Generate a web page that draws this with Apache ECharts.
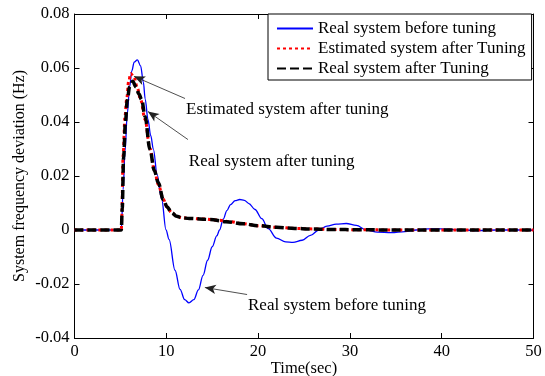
<!DOCTYPE html>
<html>
<head>
<meta charset="utf-8">
<script src="https://cdn.jsdelivr.net/npm/echarts@6/dist/echarts.min.js"></script>
<style>html,body{margin:0;padding:0;background:#fff;}#c{width:545px;height:376px;}</style>
</head>
<body>
<div id="c"></div>
<script>
// ---- data ----
const seriesNames = ['Real system before tuning', 'Estimated system after Tuning', 'Real system after Tuning'];

const blueT = [0, 5.1, 5.3, 5.5, 5.75, 6.0, 6.25, 6.5, 6.85, 7.2, 7.5, 7.7, 8.0, 8.3, 8.6, 9.0, 9.5, 9.97, 10.3, 10.95, 11.5, 12.0, 12.47, 13.0, 13.5, 14.0, 14.5, 15.0, 15.5, 15.8, 16.2, 16.6, 17.0, 17.5, 18.0, 18.5, 19.0, 19.66, 20.4, 21.1, 22.0, 23.0, 23.8, 24.8, 25.7, 26.6, 27.5, 28.5, 29.6, 30.7, 31.8, 33.0, 34.5, 36.0, 37.2, 38.5, 40.0, 42.0, 44.0, 46.0, 50.0];
const blueV = [0, 0, 0.015, 0.029, 0.043, 0.053, 0.059, 0.0622, 0.063, 0.0608, 0.0548, 0.0485, 0.041, 0.035, 0.0298, 0.0205, 0.0113, 0, -0.0035, -0.0149, -0.022, -0.0258, -0.027, -0.0258, -0.0222, -0.0168, -0.0112, -0.0062, -0.0022, 0, 0.004, 0.0072, 0.0094, 0.0109, 0.0113, 0.011, 0.0098, 0.0076, 0.0042, 0.0005, -0.003, -0.0044, -0.0046, -0.0038, -0.002, 0, 0.0014, 0.0022, 0.0024, 0.0017, 0, -0.0008, -0.001, -0.0006, 0, 0.0004, 0.0004, 0, -0.0002, 0, 0];

const redT = [0, 5.1, 5.15, 5.3, 5.5, 5.68, 5.9, 6.12, 6.5, 6.85, 7.2, 7.68, 8.22, 8.7, 9.13, 9.67, 10.1, 10.58, 11.1, 11.68, 12.5, 14.0, 15.5, 17.0, 18.4, 20.0, 22.0, 24.0, 26.0, 28.0, 31.0, 35.0, 50.0];
const redV = [0, 0, 0.005, 0.028, 0.042, 0.0483, 0.055, 0.058, 0.0565, 0.0525, 0.0483, 0.041, 0.0302, 0.0222, 0.0168, 0.0114, 0.0084, 0.0064, 0.0052, 0.0046, 0.0043, 0.0041, 0.0037, 0.0031, 0.0023, 0.0016, 0.001, 0.0006, 0.0004, 0.0002, 0.0001, 0, 0];

const blackT = [0, 5.1, 5.2, 5.35, 5.55, 5.75, 6.0, 6.34, 6.7, 7.0, 7.32, 7.68, 8.22, 8.7, 9.13, 9.67, 10.1, 10.58, 11.13, 11.68, 12.5, 14.76, 16.5, 18.4, 20.0, 22.0, 24.0, 25.65, 28.0, 31.0, 35.0, 50.0];
const blackV = [0, 0, 0.008, 0.027, 0.04, 0.048, 0.053, 0.0551, 0.053, 0.0505, 0.0483, 0.0421, 0.0298, 0.022, 0.0175, 0.0113, 0.0085, 0.0064, 0.0051, 0.0045, 0.0043, 0.0039, 0.0031, 0.0023, 0.0016, 0.001, 0.0006, 0.0004, 0.0002, 0.0001, 0, 0];

const xTicks = [0, 10, 20, 30, 40, 50];
const yTicks = [-0.04, -0.02, 0, 0.02, 0.04, 0.06, 0.08];

// annotations: text, arrow tail (near text), arrow tip (on curve), text anchor
const annoText = ['Estimated system after tuning', 'Real system after tuning', 'Real system before tuning'];
const annoTail = [[12.04, 0.0487], [12.36, 0.0335], [18.8, -0.0239]];
const annoTip = [[6.48, 0.0569], [8.0, 0.0439], [14.2, -0.0213]];
const annoTextPos = [[12.15, 0.0477], [12.45, 0.0285], [18.9, -0.0247]];

// ---- chart ----
const zip = (t, v) => t.map((x, i) => [x, v[i]]);
const FONT = '"Liberation Serif", "Times New Roman", serif';
const chart = echarts.init(document.getElementById('c'), null, {renderer: 'canvas'});

const axisCommon = {
  axisLine: {show: true, onZero: false, lineStyle: {color: '#000', width: 1}},
  axisTick: {show: true, inside: true, length: 5, lineStyle: {color: '#000'}},
  splitLine: {show: false}
};

const yFmt = v => String(Math.round(v * 100) / 100);

chart.setOption({
  animation: false,
  backgroundColor: '#fff',
  grid: {left: 74.5, right: 11.5, top: 14, bottom: 38, containLabel: false, outerBoundsMode: 'none'},
  xAxis: [
    Object.assign({
      type: 'value', min: xTicks[0], max: xTicks[xTicks.length - 1], interval: 10, position: 'bottom',
      name: 'Time(sec)', nameLocation: 'middle', nameGap: 22, nameMoveOverlap: false,
      nameTextStyle: {fontFamily: FONT, fontSize: 16.5, color: '#000', verticalAlign: 'top'},
      axisLabel: {fontFamily: FONT, fontSize: 16.5, color: '#000', margin: 5}
    }, axisCommon),
    Object.assign({
      type: 'value', min: xTicks[0], max: xTicks[xTicks.length - 1], interval: 10, position: 'top',
      axisLabel: {show: false}
    }, axisCommon)
  ],
  yAxis: [
    Object.assign({
      type: 'value', min: yTicks[0], max: yTicks[yTicks.length - 1], interval: 0.02, position: 'left',
      name: 'System frequency deviation (Hz)', nameLocation: 'middle', nameGap: 47, nameMoveOverlap: false,
      nameTextStyle: {fontFamily: FONT, fontSize: 16, color: '#000'},
      axisLabel: {fontFamily: FONT, fontSize: 16.5, color: '#000', margin: 5, formatter: yFmt}
    }, axisCommon),
    Object.assign({
      type: 'value', min: yTicks[0], max: yTicks[yTicks.length - 1], interval: 0.02, position: 'right',
      axisLabel: {show: false}
    }, axisCommon)
  ],
  legend: {
    orient: 'vertical', left: 268, top: 14, align: 'left',
    data: seriesNames,
    backgroundColor: '#fff', borderColor: '#000', borderWidth: 1,
    padding: [6, 6, 3, 8], itemGap: 3, itemWidth: 36, itemHeight: 14,
    itemStyle: {color: 'rgba(0,0,0,0)', borderColor: 'rgba(0,0,0,0)', borderWidth: 0, opacity: 0},
    textStyle: {fontFamily: FONT, fontSize: 17, color: '#000'}
  },
  series: [
    {
      name: seriesNames[0], type: 'line', data: zip(blueT, blueV), symbol: 'none', smooth: 0.35, smoothMonotone: 'x',
      lineStyle: {color: '#0000ff', width: 1.3}, itemStyle: {color: '#0000ff'}, z: 2
    },
    {
      name: seriesNames[1], type: 'line', data: zip(redT, redV), symbol: 'none', smooth: 0.35, smoothMonotone: 'x',
      lineStyle: {color: '#ff0000', width: 3, type: [3, 3]}, itemStyle: {color: '#ff0000'}, z: 3
    },
    {
      name: seriesNames[2], type: 'line', data: zip(blackT, blackV), symbol: 'none', smooth: 0.35, smoothMonotone: 'x',
      lineStyle: {color: '#000', width: 3.5, type: [9, 4]}, itemStyle: {color: '#000'}, z: 4,
      markLine: {
        silent: true, symbol: ['none', 'arrow'], symbolSize: [7, 11],
        lineStyle: {color: '#222', width: 0.8, type: 'solid'},
        label: {show: false},
        data: annoTail.map((p, i) => [{coord: p}, {coord: annoTip[i]}])
      }
    }
  ]
});

// annotation texts anchored in data coordinates
const texts = annoText.map((s, i) => {
  const p = chart.convertToPixel({xAxisIndex: 0, yAxisIndex: 0}, annoTextPos[i]);
  return {type: 'text', x: p[0], y: p[1], style: {text: s, fill: '#000', font: '17px ' + FONT, textAlign: 'left', textVerticalAlign: 'top'}, z: 10};
});
chart.setOption({graphic: texts});
</script>
</body>
</html>
